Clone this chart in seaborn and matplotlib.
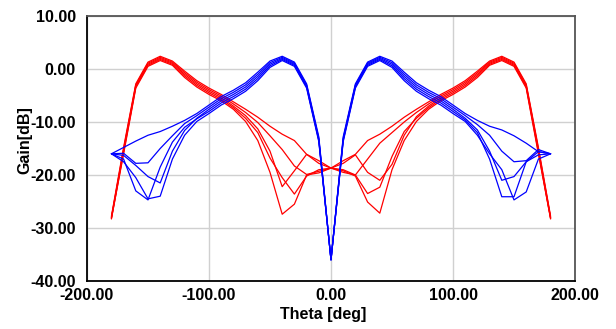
import numpy as np
import pandas as pd
import matplotlib
matplotlib.use("Agg")
import matplotlib.pyplot as plt
from matplotlib.ticker import MultipleLocator, FormatStrFormatter
import seaborn as sns

theta = list(range(-180, 181, 10))

# Blue traces: theta -180..-10, 0, 10..180
blue_1 = [-16, -14.8, -13.6, -12.5, -11.8, -10.8, -9.7, -8.4, -6.8, -5.2, -4.0, -2.6, -0.6, 1.5, 2.4, 1.3, -2.8, -12.8,
          -36.0,
          -12.8, -2.8, 1.3, 2.4, 1.5, -0.6, -2.6, -4.0, -5.2, -6.8, -8.4, -9.7, -10.8, -11.5, -12.6, -14.0, -15.6, -16]
blue_2 = [-16, -15.9, -17.8, -17.7, -15.0, -12.6, -10.3, -8.8, -7.2, -5.6, -4.4, -3.0, -1.0, 1.2, 2.2, 1.1, -3.0, -13.1,
          -36.0,
          -13.1, -3.0, 1.1, 2.2, 1.2, -1.0, -3.0, -4.4, -5.6, -7.2, -8.8, -10.5, -12.5, -15.5, -17.5, -17.3, -15.2, -16]
blue_3 = [-16, -16.3, -18.2, -20.3, -21.5, -15.5, -11.6, -9.3, -7.6, -6.0, -4.8, -3.4, -1.4, 0.9, 2.0, 0.9, -3.2, -13.3,
          -36.0,
          -13.3, -3.2, 0.9, 2.0, 0.9, -1.4, -3.4, -4.8, -6.0, -7.6, -9.3, -11.5, -15.5, -21.0, -20.3, -17.5, -15.6, -16]
blue_4 = [-16, -17.0, -23.0, -24.7, -18.5, -13.8, -11.0, -9.4, -8.0, -6.4, -5.2, -3.8, -1.8, 0.6, 1.8, 0.7, -3.4, -13.5,
          -36.0,
          -13.5, -3.4, 0.7, 1.8, 0.6, -1.8, -3.8, -5.2, -6.4, -8.0, -9.6, -12.0, -17.0, -24.1, -24.1, -17.5, -16.2, -16]
blue_5 = [-16, -17.5, -20.5, -24.5, -24.0, -17.0, -12.5, -9.9, -8.4, -6.8, -5.6, -4.2, -2.2, 0.3, 1.6, 0.5, -3.6, -13.7,
          -36.0,
          -13.7, -3.6, 0.5, 1.6, 0.3, -2.2, -4.2, -5.6, -6.8, -8.4, -9.9, -12.5, -16.0, -19.0, -24.7, -23.2, -17.0, -16]

# Red traces
red_1 = [-27.8, -14.8, -2.8, 1.3, 2.4, 1.5, -0.4, -2.2, -3.6, -4.8, -6.2, -7.6, -9.1, -10.8, -12.3, -13.5, -16.1, -17.3,
         -18.7,
         -17.3, -16.1, -13.5, -12.3, -10.8, -9.1, -7.6, -6.2, -4.8, -3.6, -2.2, -0.4, 1.5, 2.4, 1.3, -2.8, -14.8, -27.8]
red_2 = [-28.0, -15.1, -3.0, 1.1, 2.2, 1.3, -0.7, -2.5, -3.9, -5.1, -6.6, -8.2, -10.1, -12.6, -15.2, -18.3, -19.9, -19.3,
         -18.7,
         -19.0, -20.0, -17.0, -14.0, -12.0, -10.0, -8.2, -6.6, -5.1, -3.9, -2.5, -0.7, 1.3, 2.2, 1.1, -3.0, -15.1, -28.0]
red_3 = [-28.1, -15.4, -3.2, 0.9, 2.0, 1.1, -1.0, -2.8, -4.2, -5.4, -7.0, -8.8, -11.3, -15.5, -22.2, -19.2, -16.1, -17.8,
         -18.7,
         -17.8, -16.2, -19.5, -21.0, -18.0, -12.5, -9.0, -7.0, -5.4, -4.2, -2.8, -1.0, 1.1, 2.0, 0.9, -3.2, -15.4, -28.1]
red_4 = [-28.3, -15.7, -3.4, 0.7, 1.8, 0.9, -1.3, -3.1, -4.5, -5.7, -7.3, -9.3, -12.0, -16.8, -20.5, -23.6, -20.2, -19.0,
         -18.7,
         -19.5, -20.0, -23.5, -22.3, -16.5, -11.8, -9.3, -7.3, -5.7, -4.5, -3.1, -1.3, 0.9, 1.8, 0.7, -3.4, -15.7, -28.3]
red_5 = [-28.2, -16.0, -3.6, 0.5, 1.6, 0.7, -1.6, -3.4, -4.8, -6.0, -7.6, -9.9, -13.5, -19.5, -27.4, -25.5, -20.0, -19.6,
         -18.7,
         -19.2, -20.2, -25.1, -27.2, -19.0, -13.5, -9.9, -7.6, -6.0, -4.8, -3.4, -1.6, 0.7, 1.6, 0.5, -3.6, -16.0, -28.2]

x_ticks = [-200, -100, 0, 100, 200]
y_ticks = [-40, -30, -20, -10, 0, 10]

series = {
    ("red", "r1"): red_1, ("red", "r2"): red_2, ("red", "r3"): red_3,
    ("red", "r4"): red_4, ("red", "r5"): red_5,
    ("blue", "b1"): blue_1, ("blue", "b2"): blue_2, ("blue", "b3"): blue_3,
    ("blue", "b4"): blue_4, ("blue", "b5"): blue_5,
}
rows = []
for (grp, name), vals in series.items():
    for t, g in zip(theta, vals):
        rows.append({"group": grp, "curve": name, "theta": t, "gain": g})
df = pd.DataFrame(rows)

sns.set_style("white")
plt.rcParams["font.family"] = ["Liberation Sans", "DejaVu Sans"]
plt.rcParams["axes.unicode_minus"] = False
plt.rcParams["axes.labelcolor"] = "black"
plt.rcParams["text.color"] = "black"

fig = plt.figure(figsize=(6.16, 3.29), dpi=100)
ax = fig.add_axes([87 / 616, 1 - 281 / 329, (575 - 87) / 616, (281 - 16) / 329])

for grp, col in [("red", "#ff0000"), ("blue", "#0000ff")]:
    sub = df[df["group"] == grp]
    sns.lineplot(data=sub, x="theta", y="gain", units="curve", estimator=None,
                 color=col, linewidth=0.9, sort=False, legend=False, ax=ax)

ax.set_xlim(-200, 200)
ax.set_ylim(-40, 10)
ax.set_xticks(x_ticks)
ax.set_yticks(y_ticks)
ax.xaxis.set_minor_locator(MultipleLocator(20))
ax.yaxis.set_minor_locator(MultipleLocator(2))
ax.xaxis.set_major_formatter(FormatStrFormatter("%.2f"))
ax.yaxis.set_major_formatter(FormatStrFormatter("%.2f"))
ax.grid(True, which="major", color="#d0d0d0", linewidth=1.0)
ax.set_axisbelow(True)

ax.tick_params(which="major", direction="out", length=4, width=1, colors="black",
               labelsize=11.5, pad=1)
ax.tick_params(axis="y", which="major", length=6, pad=2)
ax.tick_params(which="minor", direction="in", length=4, width=0.8, colors="#333333")
for lab in ax.get_xticklabels() + ax.get_yticklabels():
    lab.set_fontweight("bold")

for s in ["left", "bottom"]:
    ax.spines[s].set_color("black")
    ax.spines[s].set_linewidth(1.3)
for s in ["top", "right"]:
    ax.spines[s].set_color("#555555")
    ax.spines[s].set_linewidth(1.3)

ax.set_xlabel("Theta [deg]", fontsize=11.5, fontweight="bold", va="top", color="black")
ax.set_ylabel("Gain[dB]", fontsize=11.5, fontweight="bold", va="center", color="black")
ax.xaxis.set_label_coords(0.484, -0.098)
ax.yaxis.set_label_coords(-0.127, 0.53)

fig.savefig("out.png", dpi=100)
